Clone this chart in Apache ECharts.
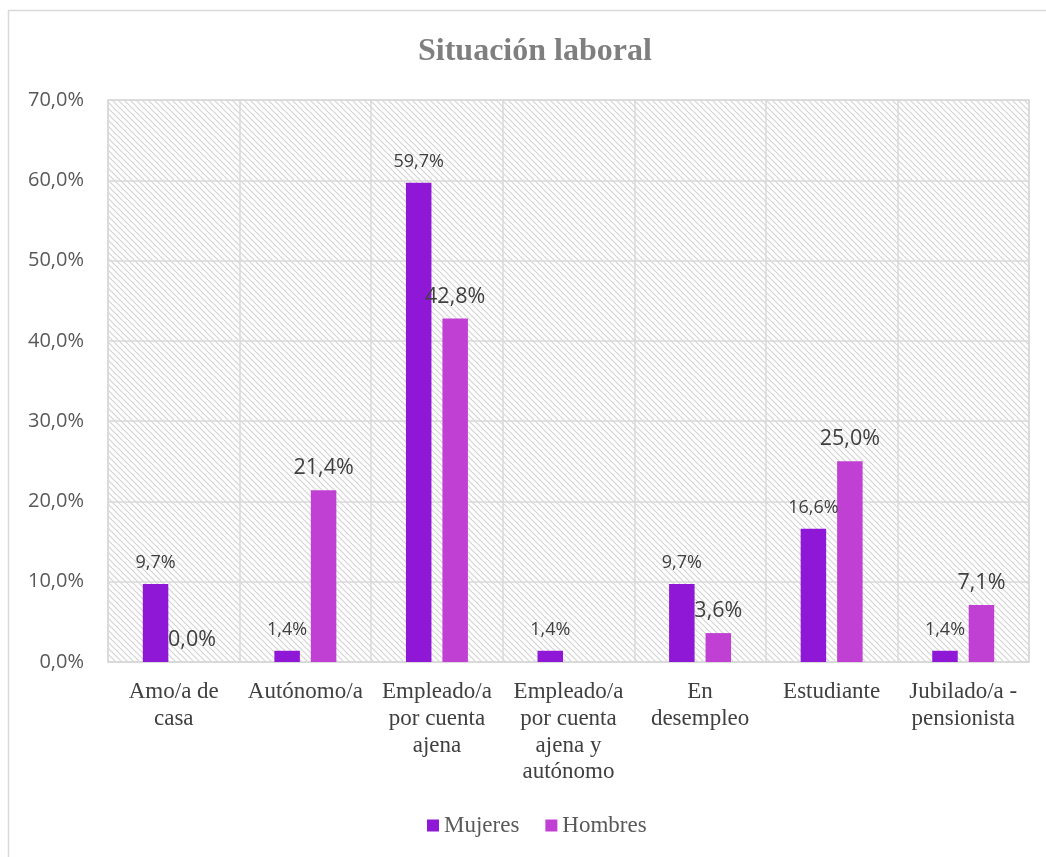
<!DOCTYPE html>
<html><head><meta charset="utf-8">
<script src="https://cdn.jsdelivr.net/npm/echarts@6/dist/echarts.min.js"></script>
<style>html,body{margin:0;padding:0;background:#fff}#c{width:1046px;height:857px}</style>
</head><body><div id="c"></div>
<script>
const categories = ["Amo/a de\ncasa","Autónomo/a","Empleado/a\npor cuenta\najena","Empleado/a\npor cuenta\najena y\nautónomo","En\ndesempleo","Estudiante","Jubilado/a -\npensionista"];
const mujeres = [9.7, 1.4, 59.7, 1.4, 9.7, 16.6, 1.4];
const hombres = [0.0, 21.4, 42.8, null, 3.6, 25.0, 7.1];
const yTicks = {min: 0, max: 70, interval: 10};

// hatch pattern
const pc = document.createElement('canvas');
pc.width = 6; pc.height = 6;
const ctx = pc.getContext('2d');
ctx.fillStyle = '#ffffff'; ctx.fillRect(0,0,6,6);
ctx.strokeStyle = '#d4d4d4'; ctx.lineWidth = 1.2;
ctx.beginPath();
ctx.moveTo(-1,-1); ctx.lineTo(7,7);
ctx.moveTo(-4,2); ctx.lineTo(4,10);
ctx.moveTo(2,-4); ctx.lineTo(10,4);
ctx.stroke();

const fmt = v => v.value == null ? '' : v.value.toFixed(1).replace('.', ',') + '%';
const chart = echarts.init(document.getElementById('c'), null, {renderer:'canvas'});
chart.setOption({
  animation:false,
  backgroundColor:'#fff',
  graphic:[{type:'rect', shape:{x:8.5,y:10.5,width:1100,height:900}, style:{fill:'none', stroke:'#d9d9d9', lineWidth:1.5}, silent:true, z:-10}],
  title:{text:'Situación laboral', left:413, top:31, textStyle:{fontFamily:'Liberation Serif', fontWeight:'bold', fontSize:32, color:'#7f7f7f'}},
  grid:{left:108, right:17, top:100, bottom:195, show:true, borderColor:'#d9d9d9', borderWidth:1.5, backgroundColor:{image:pc, repeat:'repeat'}},
  legend:{bottom:15, left:422, itemWidth:12, itemHeight:12, itemGap:26, icon:'rect',
    textStyle:{fontFamily:'Liberation Serif', fontSize:23, color:'#595959'},
    data:['Mujeres','Hombres']},
  xAxis:{type:'category', data:categories,
    axisLine:{lineStyle:{color:'#d9d9d9', width:1.5}}, axisTick:{show:false},
    splitLine:{show:true, lineStyle:{color:'#d9d9d9', width:1.5}},
    axisLabel:{interval:0, margin:17, fontFamily:'Liberation Serif', fontSize:23, lineHeight:26.7, color:'#404040'}},
  yAxis:{type:'value', min:yTicks.min, max:yTicks.max, interval:yTicks.interval,
    axisLine:{show:false}, axisTick:{show:false},
    splitLine:{lineStyle:{color:'#d9d9d9', width:1.5}},
    axisLabel:{margin:24, fontFamily:'Open Sans', fontSize:20, color:'#595959', formatter:v=>v.toFixed(1).replace('.', ',')+'%'}},
  series:[
    {name:'Mujeres', type:'bar', data:mujeres, barWidth:25.5, barGap:'43%', itemStyle:{color:'#8e18d6'},
      label:{show:true, position:'top', distance:12, formatter:fmt, fontFamily:'Open Sans', fontSize:18, color:'#404040'}},
    {name:'Hombres', type:'bar', data:hombres, barWidth:25.5, itemStyle:{color:'#c040d4'},
      label:{show:true, position:'top', distance:11, formatter:fmt, fontFamily:'Open Sans', fontSize:21.5, color:'#404040'}}
  ]
});
</script></body></html>
